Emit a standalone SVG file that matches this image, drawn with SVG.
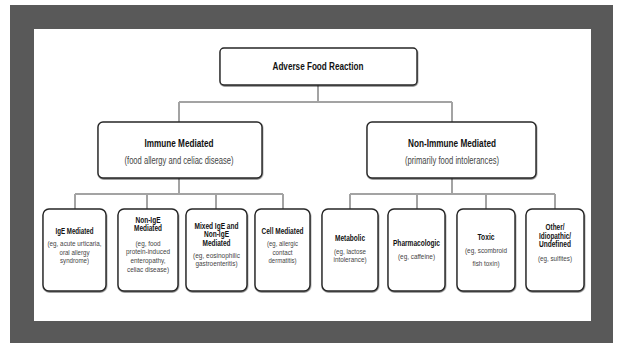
<svg xmlns="http://www.w3.org/2000/svg" width="618" height="343" viewBox="0 0 618 343">
<defs>
<filter id="sh" x="-5%" y="-5%" width="110%" height="115%">
<feDropShadow dx="0.4" dy="0.9" stdDeviation="0.4" flood-color="#000" flood-opacity="0.55"/>
</filter>
</defs>
<style>
.box{fill:#fff;stroke:#262626;stroke-width:1.4;filter:url(#sh)}
.conn{fill:none;stroke:#a3a3a3;stroke-width:2}
text{font-family:"Liberation Sans",Arial,sans-serif;text-anchor:middle}
.t0{font-size:11px;font-weight:bold;fill:#111}
.s0{font-size:10px;fill:#444}
.t1{font-size:8.2px;font-weight:bold;fill:#111}
.s1{font-size:7.6px;fill:#444}
</style>
<rect x="0" y="0" width="618" height="343" fill="#fff"/>
<rect x="10" y="5" width="603" height="338" fill="#595959"/>
<rect x="34" y="29" width="557" height="292" fill="#fff"/>
<g id="connectors">
<path class="conn" d="M318 85V102M179 102H452M179 102V122M452 102V122"/>
<path class="conn" d="M179 178V194M75 194H283M75 194V209M147 194V209M216 194V209M283 194V209"/>
<path class="conn" d="M452 178V194M350 194H555M350 194V209M417 194V209M486 194V209M555 194V209"/>
</g>
<g id="root">
<rect class="box" x="220" y="48" width="197" height="37" rx="4"/>
<text class="t0" x="318" y="70" textLength="91" lengthAdjust="spacingAndGlyphs">Adverse Food Reaction</text>
</g>
<g id="immune">
<rect class="box" x="98" y="122" width="164" height="56" rx="5"/>
<text class="t0" x="179" y="147" textLength="69" lengthAdjust="spacingAndGlyphs">Immune Mediated</text>
<text class="s0" x="179" y="164" textLength="109" lengthAdjust="spacingAndGlyphs">(food allergy and celiac disease)</text>
</g>
<g id="nonimmune">
<rect class="box" x="367" y="122" width="169" height="56" rx="5"/>
<text class="t0" x="452" y="147" textLength="88" lengthAdjust="spacingAndGlyphs">Non-Immune Mediated</text>
<text class="s0" x="452" y="164" textLength="94" lengthAdjust="spacingAndGlyphs">(primarily food intolerances)</text>
</g>
<g id="ige">
<rect class="box" x="43" y="209" width="63" height="82" rx="6"/>
<text class="t1" x="74.5" y="234" textLength="38" lengthAdjust="spacingAndGlyphs">IgE Mediated</text>
<text class="s1" x="74.5" y="246" textLength="54" lengthAdjust="spacingAndGlyphs">(eg, acute urticaria,</text>
<text class="s1" x="74.5" y="254.7" textLength="30" lengthAdjust="spacingAndGlyphs">oral allergy</text>
<text class="s1" x="74.5" y="263.4" textLength="29" lengthAdjust="spacingAndGlyphs">syndrome)</text>
</g>
<g id="nonige">
<rect class="box" x="118" y="209" width="60" height="82" rx="6"/>
<text class="t1" x="148" y="222.5" textLength="25" lengthAdjust="spacingAndGlyphs">Non-IgE</text>
<text class="t1" x="148" y="231" textLength="28" lengthAdjust="spacingAndGlyphs">Mediated</text>
<text class="s1" x="148" y="245.5" textLength="25" lengthAdjust="spacingAndGlyphs">(eg, food</text>
<text class="s1" x="148" y="254.2" textLength="44" lengthAdjust="spacingAndGlyphs">protein-induced</text>
<text class="s1" x="148" y="262.9" textLength="35" lengthAdjust="spacingAndGlyphs">enteropathy,</text>
<text class="s1" x="148" y="271.6" textLength="42" lengthAdjust="spacingAndGlyphs">celiac disease)</text>
</g>
<g id="mixed">
<rect class="box" x="186" y="209" width="61" height="82" rx="6"/>
<text class="t1" x="216.5" y="228.5" textLength="44" lengthAdjust="spacingAndGlyphs">Mixed IgE and</text>
<text class="t1" x="216.5" y="237" textLength="25" lengthAdjust="spacingAndGlyphs">Non-IgE</text>
<text class="t1" x="216.5" y="245.5" textLength="28" lengthAdjust="spacingAndGlyphs">Mediated</text>
<text class="s1" x="216.5" y="257.5" textLength="47" lengthAdjust="spacingAndGlyphs">(eg, eosinophilic</text>
<text class="s1" x="216.5" y="266.2" textLength="42" lengthAdjust="spacingAndGlyphs">gastroenteritis)</text>
</g>
<g id="cell">
<rect class="box" x="255" y="209" width="55" height="82" rx="6"/>
<text class="t1" x="282.5" y="234" textLength="42" lengthAdjust="spacingAndGlyphs">Cell Mediated</text>
<text class="s1" x="282.5" y="246" textLength="31" lengthAdjust="spacingAndGlyphs">(eg, allergic</text>
<text class="s1" x="282.5" y="254.7" textLength="20" lengthAdjust="spacingAndGlyphs">contact</text>
<text class="s1" x="282.5" y="263.4" textLength="28" lengthAdjust="spacingAndGlyphs">dermatitis)</text>
</g>
<g id="metabolic">
<rect class="box" x="322" y="209" width="56" height="82" rx="6"/>
<text class="t1" x="350" y="241" textLength="30" lengthAdjust="spacingAndGlyphs">Metabolic</text>
<text class="s1" x="350" y="253.5" textLength="32" lengthAdjust="spacingAndGlyphs">(eg, lactose</text>
<text class="s1" x="350" y="262.2" textLength="33" lengthAdjust="spacingAndGlyphs">intolerance)</text>
</g>
<g id="pharmacologic">
<rect class="box" x="388" y="209" width="57" height="82" rx="6"/>
<text class="t1" x="416.5" y="246" textLength="47" lengthAdjust="spacingAndGlyphs">Pharmacologic</text>
<text class="s1" x="416.5" y="259" textLength="37" lengthAdjust="spacingAndGlyphs">(eg, caffeine)</text>
</g>
<g id="toxic">
<rect class="box" x="457" y="209" width="58" height="82" rx="6"/>
<text class="t1" x="486" y="240" textLength="17" lengthAdjust="spacingAndGlyphs">Toxic</text>
<text class="s1" x="486" y="253" textLength="42" lengthAdjust="spacingAndGlyphs">(eg, scombroid</text>
<text class="s1" x="486" y="266" textLength="27" lengthAdjust="spacingAndGlyphs">fish toxin)</text>
</g>
<g id="other">
<rect class="box" x="526" y="209" width="58" height="82" rx="6"/>
<text class="t1" x="555" y="230" textLength="19" lengthAdjust="spacingAndGlyphs">Other/</text>
<text class="t1" x="555" y="238.7" textLength="32" lengthAdjust="spacingAndGlyphs">Idiopathic/</text>
<text class="t1" x="555" y="247.4" textLength="32" lengthAdjust="spacingAndGlyphs">Undefined</text>
<text class="s1" x="555" y="260.5" textLength="34" lengthAdjust="spacingAndGlyphs">(eg, sulfites)</text>
</g>
</svg>
